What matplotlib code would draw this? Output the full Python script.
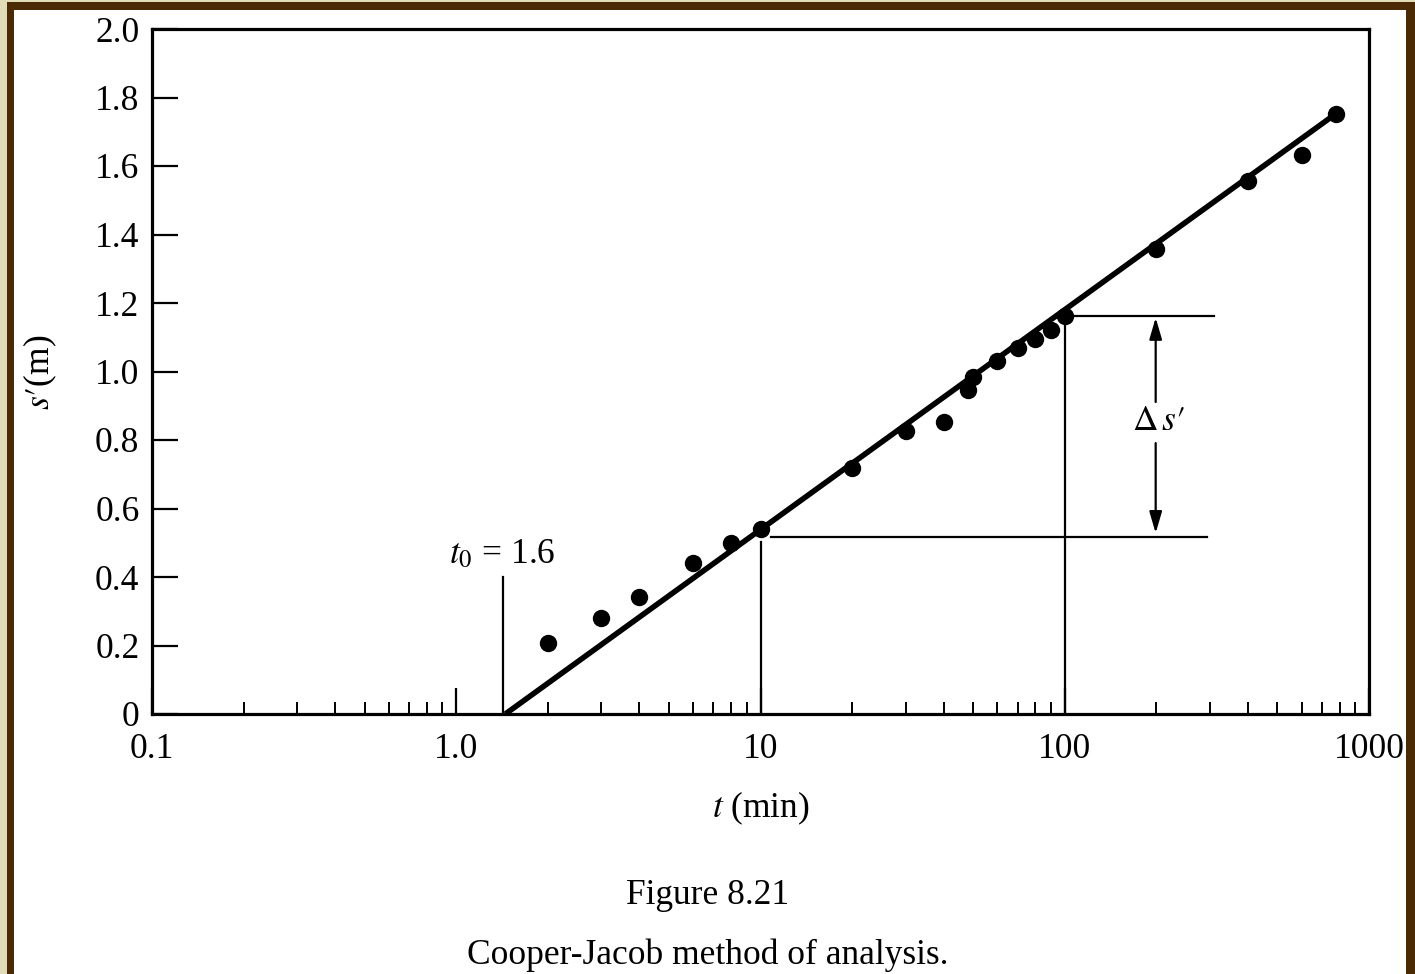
import matplotlib
matplotlib.use("Agg")
import matplotlib.pyplot as plt
from matplotlib.patches import Rectangle
from matplotlib.ticker import FixedLocator, NullFormatter, LogLocator

plt.rcParams['font.family'] = 'serif'
plt.rcParams['font.serif'] = ['Liberation Serif', 'DejaVu Serif']
plt.rcParams['mathtext.fontset'] = 'stix'

# ---- data ----
t_min = [2, 3, 4, 6, 8, 10, 20, 30, 40, 48, 50, 60, 70, 80, 90, 100, 200, 400, 600, 780]
s_m = [0.207, 0.28, 0.342, 0.44, 0.50, 0.54, 0.718, 0.826, 0.853, 0.946, 0.984,
       1.03, 1.069, 1.095, 1.121, 1.162, 1.358, 1.556, 1.632, 1.752]
fit_t = [1.45, 785]
fit_s = [0.0, 1.755]
t0_value = 1.42
s_at_10 = 0.517
s_at_100 = 1.162
x_ticks = [0.1, 1.0, 10, 100, 1000]
x_ticklabels = ["0.1", "1.0", "10", "100", "1000"]
y_ticks = [0, 0.2, 0.4, 0.6, 0.8, 1.0, 1.2, 1.4, 1.6, 1.8, 2.0]
y_ticklabels = ["0", "0.2", "0.4", "0.6", "0.8", "1.0", "1.2", "1.4", "1.6", "1.8", "2.0"]

FS = 25.5
W, H = 1415, 974
fig = plt.figure(figsize=(W / 100, H / 100), dpi=100)
fig.patch.set_facecolor('#e2dbb8')

# brown frame and white page
fig.patches.append(Rectangle((7 / W, -0.01), 1.02, 1 - 2 / H + 0.01, transform=fig.transFigure,
                             facecolor='#4a2a05', edgecolor='none', zorder=-2))
fig.patches.append(Rectangle((14 / W, -0.01), (1406 - 14) / W, 1 - 10 / H + 0.01, transform=fig.transFigure,
                             facecolor='white', edgecolor='none', zorder=-1))

ax = fig.add_axes([152 / W, 1 - 714 / H, (1369 - 152) / W, (714 - 29) / H])
ax.set_facecolor('white')
ax.set_xscale('log')
ax.set_xlim(0.1, 1000)
ax.set_ylim(0, 2.0)

for sp in ax.spines.values():
    sp.set_linewidth(2.3)
    sp.set_color('black')

ax.xaxis.set_major_locator(FixedLocator(x_ticks))
ax.set_xticklabels(x_ticklabels)
ax.xaxis.set_minor_locator(LogLocator(base=10, subs=[2, 3, 4, 5, 6, 7, 8, 9]))
ax.xaxis.set_minor_formatter(NullFormatter())
ax.set_yticks(y_ticks)
ax.set_yticklabels(y_ticklabels)

ax.tick_params(axis='both', which='major', direction='in', length=19, width=1.6,
               labelsize=FS, top=False, right=False)
ax.tick_params(axis='y', which='major', pad=9)
ax.tick_params(axis='x', which='major', pad=14)
ax.tick_params(axis='x', which='minor', direction='in', length=9, width=1.4,
               top=False)

# data and fit line
ax.plot(fit_t, fit_s, color='black', lw=4.0, solid_capstyle='butt', zorder=3)
ax.plot(t_min, s_m, 'o', color='black', markersize=11.5, zorder=4)

# construction lines
lw_thin = 1.6
ax.plot([t0_value, t0_value], [0, 0.40], color='black', lw=lw_thin)
ax.plot([10, 10], [0, 0.502], color='black', lw=lw_thin)
ax.plot([10.8, 293], [s_at_10, s_at_10], color='black', lw=lw_thin)
ax.plot([100.5, 100.5], [0, 1.142], color='black', lw=lw_thin)
ax.plot([108, 309], [s_at_100, s_at_100], color='black', lw=lw_thin)

arrow_t = 199
astyle = '-|>,head_length=1.3,head_width=0.38'
ax.annotate('', xy=(arrow_t, 1.157), xytext=(arrow_t, 0.911),
            arrowprops=dict(arrowstyle=astyle, color='black', lw=1.6, mutation_scale=10,
                            shrinkA=0, shrinkB=0))
ax.annotate('', xy=(arrow_t, 0.528), xytext=(arrow_t, 0.791),
            arrowprops=dict(arrowstyle=astyle, color='black', lw=1.6, mutation_scale=10,
                            shrinkA=0, shrinkB=0))
ax.text(arrow_t * 1.02, 0.855, r"$\Delta\,s\prime$", fontsize=FS, ha='center', va='center')

ax.text(t0_value, 0.465, r"$t_0$ = 1.6", fontsize=FS, ha='center', va='center')

ax.set_xlabel(r"$t$ (min)", fontsize=FS, labelpad=17)
fig.text(40 / W, 1 - 372 / H, r"$s\prime$(m)", fontsize=FS, rotation=90, ha='center', va='center')

fig.text(708 / W, 1 - 895 / H, "Figure 8.21", fontsize=FS, ha='center', va='center')
fig.text(708 / W, 1 - 955 / H, "Cooper-Jacob method of analysis.", fontsize=FS, ha='center', va='center')

fig.savefig('out.png', dpi=100, facecolor=fig.get_facecolor())
